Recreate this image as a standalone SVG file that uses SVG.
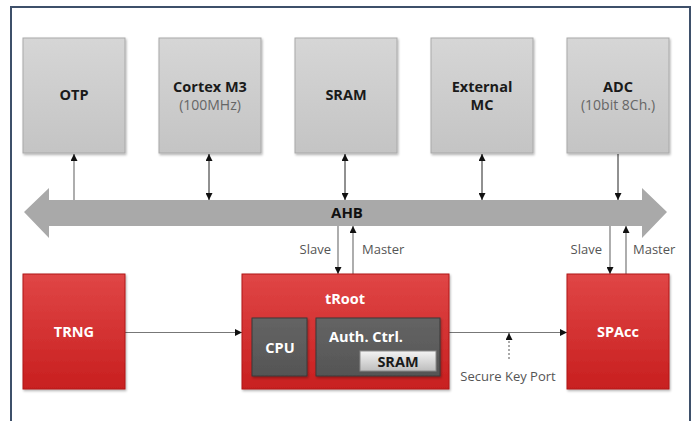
<svg xmlns="http://www.w3.org/2000/svg" width="697" height="421" viewBox="0 0 697 421">
  <defs>
    <linearGradient id="gGray" x1="0" y1="0" x2="0" y2="1">
      <stop offset="0" stop-color="#d6d6d6"/>
      <stop offset="1" stop-color="#c4c4c4"/>
    </linearGradient>
    <linearGradient id="gRed" x1="0" y1="0" x2="0" y2="1">
      <stop offset="0" stop-color="#e04646"/>
      <stop offset="1" stop-color="#c81f1f"/>
    </linearGradient>
    <linearGradient id="gDark" x1="0" y1="0" x2="0" y2="1">
      <stop offset="0" stop-color="#646464"/>
      <stop offset="1" stop-color="#555555"/>
    </linearGradient>
    <linearGradient id="gBtn" x1="0" y1="0" x2="0" y2="1">
      <stop offset="0" stop-color="#f4f4f4"/>
      <stop offset="1" stop-color="#bdbdbd"/>
    </linearGradient>
    <filter id="shadow" x="-10%" y="-10%" width="130%" height="130%">
      <feDropShadow dx="1" dy="1.5" stdDeviation="1.2" flood-color="#000" flood-opacity="0.3"/>
    </filter>
    <marker id="ah" viewBox="0 0 10 10" refX="10" refY="5" markerWidth="7" markerHeight="7" orient="auto-start-reverse" markerUnits="userSpaceOnUse">
      <path d="M0,0 L10,5 L0,10 z" fill="#111"/>
    </marker>
  </defs>
  <style>
    .frame { fill: none; stroke: #3e506a; stroke-width: 2; }
    .gbox { fill: url(#gGray); stroke: #a9a9a9; stroke-width: 1; filter: url(#shadow); }
    .rbox { fill: url(#gRed); stroke: #b01818; stroke-width: 1; filter: url(#shadow); }
    .dbox { fill: url(#gDark); stroke: #3a3a3a; stroke-width: 1; filter: url(#shadow); }
    .btn { fill: url(#gBtn); stroke: #8a8a8a; stroke-width: 1; }
    .t { font-family: "Open Sans", "Noto Sans", "Liberation Sans", sans-serif; text-anchor: middle; }
    .b { font-weight: bold; font-size: 14.5px; fill: #1a1a1a; }
    .sub { font-size: 14px; fill: #666; }
    .w { font-weight: bold; font-size: 14.5px; fill: #ffffff; }
    .lbl { font-family: "Open Sans", "Noto Sans", "Liberation Sans", sans-serif; font-size: 13px; fill: #555; }
    .end { text-anchor: end; }
    .mid { text-anchor: middle; }
    .c { stroke: #222; stroke-width: 1; fill: none; }
    .cg { stroke: #777; stroke-width: 1.2; fill: none; }
  </style>

  <!-- outer frame, open at the bottom -->
  <path class="frame" d="M11,421 V7 H690 V421"/>

  <!-- AHB bus -->
  <g id="ahb">
    <path d="M24,212 L49,188 L49,200 L642,200 L642,188 L667,212 L642,238 L642,226 L49,226 L49,238 Z" fill="#a9a9a9"/>
    <text class="t" x="347" y="218" font-weight="bold" font-size="15" fill="#111">AHB</text>
  </g>

  <!-- connectors -->
  <g id="connectors">
    <line class="cg" x1="74" y1="200" x2="74" y2="154" marker-end="url(#ah)"/>
    <line class="c" x1="209" y1="154" x2="209" y2="200" marker-start="url(#ah)" marker-end="url(#ah)"/>
    <line class="c" x1="345" y1="154" x2="345" y2="200" marker-start="url(#ah)" marker-end="url(#ah)"/>
    <line class="c" x1="482" y1="154" x2="482" y2="200" marker-start="url(#ah)" marker-end="url(#ah)"/>
    <line class="c" x1="618" y1="154" x2="618" y2="200" marker-end="url(#ah)"/>
    <line class="cg" x1="338" y1="226" x2="338" y2="274" marker-end="url(#ah)"/>
    <line class="cg" x1="353" y1="274" x2="353" y2="226" marker-end="url(#ah)"/>
    <line class="cg" x1="610" y1="226" x2="610" y2="274" marker-end="url(#ah)"/>
    <line class="cg" x1="626" y1="274" x2="626" y2="226" marker-end="url(#ah)"/>
    <line class="cg" x1="125" y1="332.5" x2="242" y2="332.5" marker-end="url(#ah)"/>
    <line class="cg" x1="449" y1="332.5" x2="567" y2="332.5" marker-end="url(#ah)"/>
    <line x1="509" y1="359" x2="509" y2="333" stroke="#555" stroke-width="1" stroke-dasharray="2,2" marker-end="url(#ah)"/>
  </g>

  <text class="lbl end" x="331" y="254">Slave</text>
  <text class="lbl" x="362" y="254">Master</text>
  <text class="lbl end" x="602" y="254">Slave</text>
  <text class="lbl" x="633" y="254">Master</text>
  <text class="lbl mid" x="508" y="381">Secure Key Port</text>

  <!-- top row peripherals -->
  <g id="otp">
    <rect class="gbox" x="23" y="38" width="102" height="115"/>
    <text class="t b" x="74" y="100">OTP</text>
  </g>
  <g id="cortex">
    <rect class="gbox" x="159" y="38" width="102" height="115"/>
    <text class="t b" x="210" y="92">Cortex M3</text>
    <text class="t sub" x="210" y="110">(100MHz)</text>
  </g>
  <g id="sram">
    <rect class="gbox" x="295" y="38" width="102" height="115"/>
    <text class="t b" x="346" y="100">SRAM</text>
  </g>
  <g id="extmc">
    <rect class="gbox" x="431" y="38" width="102" height="115"/>
    <text class="t b" x="482" y="92">External</text>
    <text class="t b" x="482" y="110">MC</text>
  </g>
  <g id="adc">
    <rect class="gbox" x="567" y="38" width="102" height="115"/>
    <text class="t b" x="618" y="92">ADC</text>
    <text class="t sub" x="618" y="110">(10bit 8Ch.)</text>
  </g>

  <!-- bottom row -->
  <g id="trng">
    <rect class="rbox" x="23" y="274" width="102" height="115"/>
    <text class="t w" x="74" y="337">TRNG</text>
  </g>
  <g id="troot">
    <rect class="rbox" x="242" y="274" width="207" height="115"/>
    <text class="t w" x="345" y="304">tRoot</text>
    <g id="cpu">
      <rect class="dbox" x="252" y="318" width="55" height="58"/>
      <text class="t w" x="280" y="353">CPU</text>
    </g>
    <g id="auth">
      <rect class="dbox" x="316" y="318" width="124" height="58"/>
      <text class="t w" x="366" y="342">Auth. Ctrl.</text>
      <rect class="btn" x="360" y="351" width="76" height="20"/>
      <text class="t b" x="398" y="367" fill="#111">SRAM</text>
    </g>
  </g>
  <g id="spacc">
    <rect class="rbox" x="567" y="274" width="102" height="115"/>
    <text class="t w" x="618" y="337">SPAcc</text>
  </g>
</svg>
